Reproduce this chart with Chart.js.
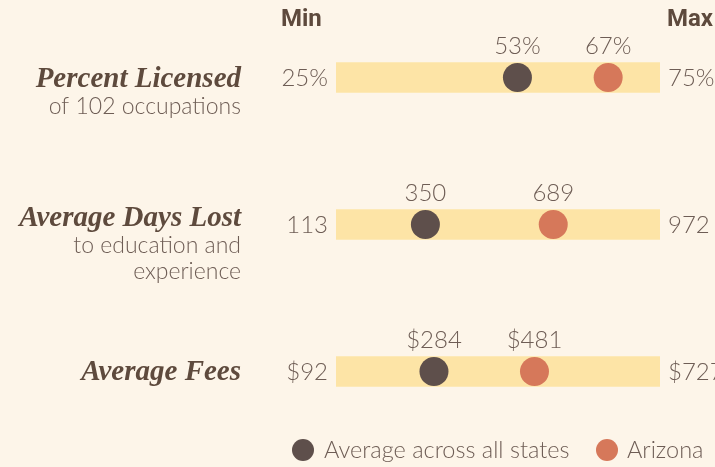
<!DOCTYPE html>
<html>
<head>
<meta charset="utf-8">
<script src="https://cdn.jsdelivr.net/npm/chart.js@4.4.1/dist/chart.umd.min.js"></script>
<style>
  html, body { margin: 0; padding: 0; background: #fdf5e9; }
  #wrap { width: 715px; height: 467px; position: relative; }
</style>
</head>
<body>
<div id="wrap"><canvas id="chart" width="715" height="467"></canvas></div>
<script>
// Data for the three rows
const categories = ["Percent Licensed", "Average Days Lost", "Average Fees"];
const subtitles = [["of 102 occupations"], ["to education and", "experience"], []];
const minValues = [25, 113, 92];
const maxValues = [75, 972, 727];
const averageValues = [53, 350, 284];
const arizonaValues = [67, 689, 481];
const prefixes = ["", "", "$"];
const suffixes = ["%", "", ""];

const bg = "#fdf5e9";
const barColor = "#fde4a6";
const avgColor = "#5e4f4b";
const azColor = "#d6785a";
const textColor = "#6e5d55";
const titleColor = "#5e4a3d";

function fmt(i, v) {
    return prefixes[i] + v + suffixes[i];
}

// position along the bar, 0 = min, 1 = max
function norm(i, v) {
    return (v - minValues[i]) / (maxValues[i] - minValues[i]);
}

const avgPoints = categories.map((c, i) => ({ x: norm(i, averageValues[i]), y: c }));
const azPoints = categories.map((c, i) => ({ x: norm(i, arizonaValues[i]), y: c }));

// title offset from the bar centre, row by row
const titleShift = [2, -6, 1];

const labelsPlugin = {
    id: "labels",
    beforeDraw(chart) {
        const ctx = chart.ctx;
        ctx.save();
        ctx.fillStyle = bg;
        ctx.fillRect(0, 0, chart.width, chart.height);
        ctx.restore();
    },
    afterDraw(chart) {
        const ctx = chart.ctx;
        const xs = chart.scales.x;
        const ys = chart.scales.y;
        const left = xs.getPixelForValue(0);
        const right = xs.getPixelForValue(1);
        ctx.save();

        // header
        ctx.fillStyle = titleColor;
        ctx.font = "bold 24px Roboto";
        ctx.textBaseline = "middle";
        ctx.textAlign = "left";
        ctx.fillText("Min", 281, 20);
        ctx.textAlign = "right";
        ctx.fillText("Max", 713, 20);

        categories.forEach((c, i) => {
            const y = ys.getPixelForValue(i);

            // min / max values
            ctx.font = "300 24px Lato";
            ctx.fillStyle = textColor;
            ctx.textAlign = "right";
            ctx.fillText(fmt(i, minValues[i]), left - 8, y + 1);
            ctx.textAlign = "left";
            ctx.fillText(fmt(i, maxValues[i]), right + 8, y + 1);

            // values above the dots
            ctx.textAlign = "center";
            ctx.fillText(fmt(i, averageValues[i]), xs.getPixelForValue(avgPoints[i].x), y - 31);
            ctx.fillText(fmt(i, arizonaValues[i]), xs.getPixelForValue(azPoints[i].x), y - 31);

            // row title
            const titleY = y + titleShift[i];
            ctx.textAlign = "right";
            ctx.fillStyle = titleColor;
            ctx.font = "italic bold 29px 'Liberation Serif'";
            ctx.fillText(c, 241, titleY);
            ctx.font = "300 23px Lato";
            ctx.fillStyle = textColor;
            subtitles[i].forEach((s, k) => {
                ctx.fillText(s, 241, titleY + 27 + k * 26);
            });
        });

        // legend
        const ly = 450;
        ctx.font = "300 23.5px Lato";
        ctx.textAlign = "left";
        ctx.fillStyle = avgColor;
        ctx.beginPath();
        ctx.arc(303, ly, 11, 0, Math.PI * 2);
        ctx.fill();
        ctx.fillStyle = textColor;
        ctx.fillText("Average across all states", 324, ly);
        ctx.fillStyle = azColor;
        ctx.beginPath();
        ctx.arc(607, ly, 11, 0, Math.PI * 2);
        ctx.fill();
        ctx.fillStyle = textColor;
        ctx.fillText("Arizona", 627, ly);

        ctx.restore();
    }
};

new Chart(document.getElementById("chart"), {
    type: "bar",
    data: {
        labels: categories,
        datasets: [
            {
                label: "Average across all states",
                type: "line",
                data: avgPoints,
                showLine: false,
                pointRadius: 14.5,
                pointBackgroundColor: avgColor,
                pointBorderWidth: 0,
                order: 1
            },
            {
                label: "Arizona",
                type: "line",
                data: azPoints,
                showLine: false,
                pointRadius: 14.5,
                pointBackgroundColor: azColor,
                pointBorderWidth: 0,
                order: 1
            },
            {
                label: "Range",
                data: categories.map(() => [0, 1]),
                backgroundColor: barColor,
                barThickness: 30,
                order: 2
            }
        ]
    },
    options: {
        indexAxis: "y",
        responsive: false,
        animation: false,
        layout: { autoPadding: false, padding: { left: 336, right: 55, top: 4, bottom: 22 } },
        plugins: {
            legend: { display: false },
            tooltip: { enabled: false }
        },
        scales: {
            x: { type: "linear", min: 0, max: 1, display: false },
            y: { type: "category", offset: true, display: false }
        }
    },
    plugins: [labelsPlugin]
});
</script>
</body>
</html>
